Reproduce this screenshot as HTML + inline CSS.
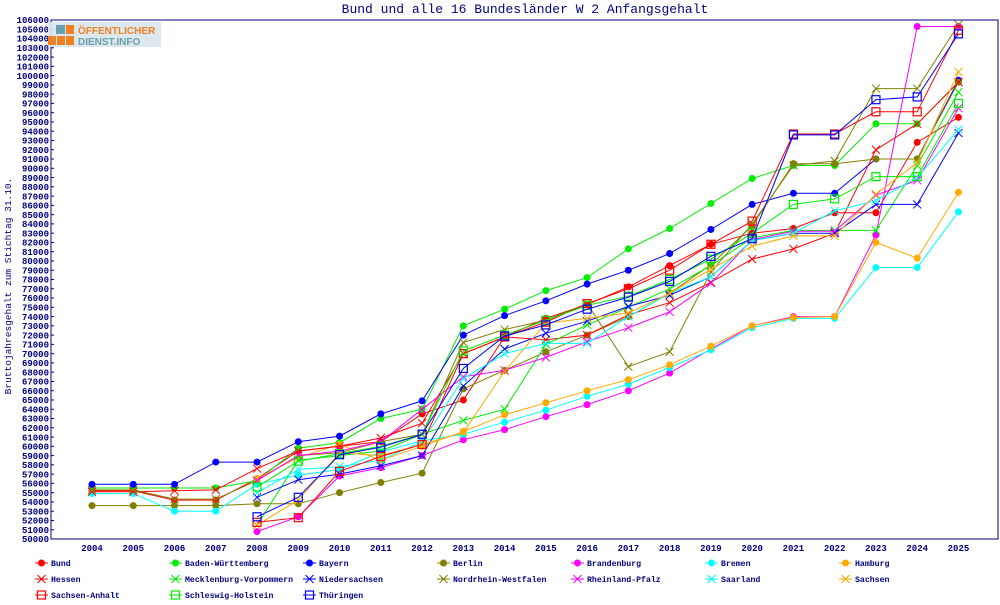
<!DOCTYPE html>
<html><head><meta charset="utf-8"><style>
body{margin:0;background:#fff;width:1000px;height:600px;overflow:hidden}
svg text{font-family:"Liberation Mono","DejaVu Sans Mono",monospace}
</style></head><body>
<svg id="s" width="1000" height="600" xmlns="http://www.w3.org/2000/svg">
<rect x="0" y="0" width="1000" height="600" fill="#fff"/>
<text x="525" y="13" font-size="13" fill="#000080" text-anchor="middle">Bund und alle 16 Bundesländer W 2 Anfangsgehalt</text>
<text transform="translate(11,286) rotate(-90)" font-size="9.5" fill="#000080" text-anchor="middle">Bruttojahresgehalt zum Stichtag 31.10.</text>
<rect x="51" y="20" width="947" height="519" fill="none" stroke="#000080" stroke-width="1"/>
<g id="g"></g>
<rect x="48" y="22" width="113" height="25" fill="#d8e4ec" opacity="0.9"/>
<rect x="56" y="25" width="9" height="9" fill="#6aa0b0"/><rect x="66" y="25" width="8" height="9" fill="#f08020"/>
<rect x="48" y="36" width="8" height="9" fill="#f08020"/><rect x="57" y="36" width="8" height="9" fill="#f08020"/><rect x="66" y="36" width="8" height="9" fill="#f08020"/>
<text x="78" y="34" font-size="10" font-weight="bold" fill="#f08020" style="font-family:'Liberation Sans',sans-serif">ÖFFENTLICHER</text>
<text x="78" y="45" font-size="10" font-weight="bold" fill="#6aa0b0" style="font-family:'Liberation Sans',sans-serif">DIENST.INFO</text>
</svg>
<script>
var N=null;
var S=[
["Bund","#ff0000","d",[55.2,55.2,54.2,54.2,56.5,59.5,60.0,60.5,63.5,65.0,71.8,73.8,75.3,77.2,79.5,81.8,83.0,83.5,85.2,85.2,92.8,95.5]],
["Baden-Württemberg","#00ee00","d",[55.5,55.5,55.5,55.5,56.3,59.8,60.4,63.0,64.0,73.0,74.8,76.8,78.2,81.3,83.5,86.2,88.9,90.3,90.3,94.8,94.8,99.3]],
["Bayern","#0000ff","d",[55.9,55.9,55.9,58.3,58.3,60.5,61.1,63.5,64.9,72.0,74.1,75.7,77.5,79.0,80.8,83.4,86.1,87.3,87.3,91.0,91.0,99.5]],
["Berlin","#808000","d",[53.6,53.6,53.6,53.6,53.8,53.8,55.0,56.1,57.1,66.2,68.2,70.2,72.0,74.0,76.5,79.6,83.8,90.5,90.5,91.0,91.0,99.3]],
["Brandenburg","#ff00ff","d",[N,N,N,N,50.8,52.4,56.8,57.7,59.0,60.7,61.8,63.2,64.5,66.0,67.9,70.5,73.0,74.0,74.0,82.8,105.3,105.3]],
["Bremen","#00ffff","d",[54.9,54.9,53.0,53.0,55.9,56.9,57.5,59.4,60.6,61.3,62.6,63.9,65.4,66.7,68.5,70.4,72.8,73.8,73.8,79.3,79.3,85.3]],
["Hamburg","#ffaa00","d",[N,N,N,N,56.5,58.8,60.2,58.5,60.0,61.6,63.4,64.7,66.0,67.2,68.8,70.8,73.0,73.9,74.0,82.0,80.3,87.4]],
["Hessen","#ff0000","x",[55.1,55.1,55.2,55.3,57.6,59.5,60.0,60.9,62.5,70.0,71.8,71.5,72.0,74.2,75.5,77.7,80.2,81.3,83.0,92.0,94.8,99.3]],
["Mecklenburg-Vorpommern","#00ee00","x",[N,N,N,N,51.5,58.5,59.0,59.5,61.3,62.8,64.0,71.0,73.1,75.0,77.0,79.5,82.5,83.3,83.3,83.3,90.3,98.2]],
["Niedersachsen","#0000ff","x",[N,N,N,N,54.5,56.4,57.0,57.9,59.0,66.5,70.5,72.2,73.5,75.1,76.3,78.3,82.2,83.0,83.0,86.1,86.1,93.8]],
["Nordrhein-Westfalen","#808000","x",[55.3,55.3,54.3,54.3,56.3,59.0,59.3,60.5,61.3,71.2,72.6,73.6,75.4,68.6,70.2,78.8,84.0,90.3,90.8,98.6,98.6,105.5]],
["Rheinland-Pfalz","#ff00ff","x",[N,N,N,N,56.3,59.0,59.5,60.5,64.0,67.5,68.2,69.6,71.3,72.8,74.5,77.6,82.3,83.2,83.2,87.1,88.7,96.5]],
["Saarland","#00ffff","x",[N,N,N,N,55.0,57.5,57.8,58.5,60.5,67.3,70.0,71.1,71.1,74.0,76.5,78.3,82.2,83.0,85.4,86.5,89.0,94.2]],
["Sachsen","#ffaa00","x",[N,N,N,N,51.5,54.2,59.3,59.0,60.2,61.5,68.1,73.3,73.8,74.4,76.5,79.1,81.6,82.7,82.7,87.2,90.6,100.4]],
["Sachsen-Anhalt","#ff0000","s",[N,N,N,N,51.8,52.3,57.3,58.9,60.2,70.0,71.8,73.4,75.4,77.0,79.0,81.8,84.3,93.7,93.7,96.1,96.1,104.9]],
["Schleswig-Holstein","#00ee00","s",[N,N,N,N,55.6,58.4,59.2,60.0,61.3,70.3,72.0,73.6,75.2,76.2,78.0,80.2,83.0,86.1,86.7,89.1,89.1,97.0]],
["Thüringen","#0000ff","s",[N,N,N,N,52.4,54.5,59.1,59.9,61.3,68.4,71.9,73.1,74.8,76.1,77.8,80.5,82.4,93.6,93.6,97.4,97.7,104.5]]
];
var h="";
function X(i){return 92+i*41.26}
function Y(v){return 539-(v-50)*519/56}
function mk(t,x,y,c){
 if(t=="d")return '<circle cx="'+x+'" cy="'+y+'" r="3.5" fill="'+c+'"/>';
 if(t=="x")return '<path d="M'+(x-4)+' '+(y-4)+'L'+(x+4)+' '+(y+4)+'M'+(x-4)+' '+(y+4)+'L'+(x+4)+' '+(y-4)+'" stroke="'+c+'" stroke-width="1"/>';
 return '<rect x="'+(x-4)+'" y="'+(y-4)+'" width="8" height="8" fill="none" stroke="'+c+'" stroke-width="1.2"/>';
}
for(var v=50;v<=106;v++){var y=Y(v);h+='<text x="49" y="'+(y+3.2)+'" font-size="9" font-weight="bold" fill="#000080" text-anchor="end">'+(v*1000)+'</text><line x1="51" x2="54" y1="'+y+'" y2="'+y+'" stroke="#000080"/>';}
for(var i=0;i<22;i++){h+='<text x="'+X(i)+'" y="551" font-size="9" font-weight="bold" fill="#000080" text-anchor="middle">'+(2004+i)+'</text>';}
S.forEach(function(s,k){
 var p="",st=false;
 s[3].forEach(function(v,i){if(v==null)return;p+=(st?"L":"M")+X(i).toFixed(1)+" "+Y(v).toFixed(1);st=true;});
 h+='<path d="'+p+'" fill="none" stroke="'+s[1]+'" stroke-width="1"/>';
 s[3].forEach(function(v,i){if(v!=null)h+=mk(s[2],X(i),Y(v),s[1]);});
 var col=k%7,row=Math.floor(k/7),lx=35+col*134,ly=563+row*16;
 h+='<line x1="'+lx+'" x2="'+(lx+13)+'" y1="'+ly+'" y2="'+ly+'" stroke="'+s[1]+'"/>'+mk(s[2],lx+6.5,ly,s[1]);
 h+='<text x="'+(lx+16)+'" y="'+(ly+3.2)+'" font-size="8.2" font-weight="bold" fill="#000080">'+s[0]+'</text>';
});
document.getElementById("g").innerHTML=h;
</script>
</body></html>
